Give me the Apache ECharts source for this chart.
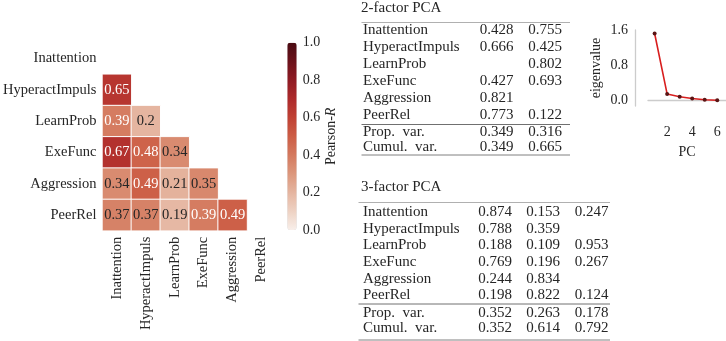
<!DOCTYPE html>
<html>
<head>
<meta charset="utf-8">
<script src="https://cdn.jsdelivr.net/npm/echarts@6/dist/echarts.min.js"></script>
<style>
  html, body { margin: 0; padding: 0; background: #fff; }
  #chart { width: 726px; height: 341px; }
</style>
</head>
<body>
<div id="chart"></div>
<script>
// correlation matrix (lower triangle, row i has i values)
var corrVars = ['Inattention', 'HyperactImpuls', 'LearnProb', 'ExeFunc', 'Aggression', 'PeerRel'];
var corrLower = [
    [],
    [0.65],
    [0.39, 0.2],
    [0.67, 0.48, 0.34],
    [0.34, 0.49, 0.21, 0.35],
    [0.37, 0.37, 0.19, 0.39, 0.49]
];
var colorbarTicks = [0, 0.2, 0.4, 0.6, 0.8, 1.0];

// PCA tables
var pcaVars = ['Inattention', 'HyperactImpuls', 'LearnProb', 'ExeFunc', 'Aggression', 'PeerRel'];
var pca2Loadings = [
    [0.428, 0.755],
    [0.666, 0.425],
    [null, 0.802],
    [0.427, 0.693],
    [0.821, null],
    [0.773, 0.122]
];
var pca2PropVar = [0.349, 0.316];
var pca2CumulVar = [0.349, 0.665];
var pca3Loadings = [
    [0.874, 0.153, 0.247],
    [0.788, 0.359, null],
    [0.188, 0.109, 0.953],
    [0.769, 0.196, 0.267],
    [0.244, 0.834, null],
    [0.198, 0.822, 0.124]
];
var pca3PropVar = [0.352, 0.263, 0.178];
var pca3CumulVar = [0.352, 0.614, 0.792];

// scree plot
var screePC = [1, 2, 3, 4, 5, 6];
var screeEigen = [1.52, 0.15, 0.09, 0.05, 0.02, 0.01];
var screeYTicks = [0, 0.8, 1.6];
var screeXTicks = [2, 4, 6];

var FONT = 'Liberation Serif';
var TXT = '#262626';

var chart = echarts.init(document.getElementById('chart'));

// heatmap cells, text white on the dark ones
var heatData = [];
for (var i = 0; i < corrLower.length; i++) {
    for (var j = 0; j < corrLower[i].length; j++) {
        var v = corrLower[i][j];
        heatData.push({
            value: [j, i, v],
            label: { color: v >= 0.38 ? '#ffffff' : TXT }
        });
    }
}

// builds a booktabs-like table from the arrays
function tableGraphics(t) {
    var els = [];
    var font = '15px "' + FONT + '"';
    els.push({ type: 'text', style: { text: t.title, x: t.left - 2, y: t.titleY, font: font, fill: TXT, textAlign: 'left', textVerticalAlign: 'middle', align: 'left', verticalAlign: 'middle' } });
    function rule(y, color) {
        els.push({ type: 'line', shape: { x1: t.ruleLeft, y1: y, x2: t.ruleRight, y2: y }, style: { stroke: color, lineWidth: 1 } });
    }
    function row(label, vals, y) {
        els.push({ type: 'text', style: { text: label, x: t.left, y: y, font: font, fill: TXT, textAlign: 'left', textVerticalAlign: 'middle', align: 'left', verticalAlign: 'middle' } });
        for (var k = 0; k < vals.length; k++) {
            if (vals[k] == null) continue;
            els.push({ type: 'text', style: { text: vals[k].toFixed(3), x: t.colRights[k], y: y, font: font, fill: TXT, textAlign: 'right', textVerticalAlign: 'middle', align: 'right', verticalAlign: 'middle' } });
        }
    }
    rule(t.topRule, '#b0b0b0');
    for (var r = 0; r < pcaVars.length; r++) {
        row(pcaVars[r], t.loadings[r], t.rowY0 + r * t.rowH);
    }
    rule(t.midRule, '#707070');
    row('Prop.  var.', t.prop, t.sumY0);
    row('Cumul.  var.', t.cumul, t.sumY0 + t.sumH);
    rule(t.bottomRule, '#808080');
    return els;
}

var graphics = [].concat(
    tableGraphics({
        title: '2-factor PCA', titleY: 8, left: 363, ruleLeft: 361.5, ruleRight: 570,
        colRights: [513.5, 562], topRule: 22.5, rowY0: 30.5, rowH: 17, midRule: 124.5,
        sumY0: 132.5, sumH: 15, bottomRule: 155,
        loadings: pca2Loadings, prop: pca2PropVar, cumul: pca2CumulVar
    }),
    tableGraphics({
        title: '3-factor PCA', titleY: 187, left: 363, ruleLeft: 358.5, ruleRight: 610,
        colRights: [512, 560, 608.5], topRule: 202.5, rowY0: 212, rowH: 16.7, midRule: 304,
        sumY0: 312.7, sumH: 15.6, bottomRule: 340,
        loadings: pca3Loadings, prop: pca3PropVar, cumul: pca3CumulVar
    })
);

function lbl(size, extra) {
    var o = { fontSize: size, fontFamily: FONT, color: TXT };
    for (var key in extra) o[key] = extra[key];
    return o;
}

var option = {
    animation: false,
    textStyle: { fontFamily: FONT, color: TXT },
    grid: [
        { left: 98.3, top: 43, width: 177.7, height: 187.7 },
        { left: 648, top: 30, width: 78, height: 76 },
        { left: 287.3, top: 42.7, width: 9.4, height: 187.3 }
    ],
    xAxis: [
        {
            type: 'category', gridIndex: 0, data: corrVars,
            axisLine: { show: false }, axisTick: { show: false }, splitLine: { show: false },
            axisLabel: lbl(14.5, { rotate: 90, margin: 6, interval: 0 })
        },
        {
            type: 'value', gridIndex: 1, min: 0.47, max: 6.7, offset: 14,
            axisLine: { show: true, lineStyle: { color: '#cccccc', width: 1.3 } },
            axisTick: { show: false }, splitLine: { show: false },
            axisLabel: lbl(14, { customValues: screeXTicks, margin: 5 }),
            name: 'PC', nameLocation: 'middle', nameGap: 25,
            nameTextStyle: lbl(14, {})
        },
        { type: 'value', gridIndex: 2, show: false }
    ],
    yAxis: [
        {
            type: 'category', gridIndex: 0, data: corrVars, inverse: true,
            axisLine: { show: false }, axisTick: { show: false }, splitLine: { show: false },
            axisLabel: lbl(14.5, { margin: 6, interval: 0 })
        },
        {
            type: 'value', gridIndex: 1, min: -0.12, max: 1.6, offset: 13,
            axisLine: { show: true, lineStyle: { color: '#cccccc', width: 1.3 } },
            axisTick: { show: false }, splitLine: { show: false },
            axisLabel: lbl(14, { customValues: screeYTicks, margin: 7,
                formatter: function (v) { return v.toFixed(1); } }),
            name: 'eigenvalue', nameLocation: 'middle', nameRotate: 90, nameGap: 32,
            nameTextStyle: lbl(14, {})
        },
        {
            type: 'value', gridIndex: 2, position: 'right', min: 0, max: 1,
            axisLine: { show: false }, axisTick: { show: false }, splitLine: { show: false },
            axisLabel: lbl(14, { customValues: colorbarTicks, margin: 6,
                formatter: function (v) { return v.toFixed(1); } }),
            name: '{a|Pearson-}{b|R}', nameLocation: 'middle', nameRotate: 90, nameGap: 27,
            nameTextStyle: lbl(14, {
                rich: { a: lbl(14, {}), b: lbl(14, { fontStyle: 'italic' }) } })
        }
    ],
    visualMap: {
        type: 'continuous', min: 0, max: 1, seriesIndex: 0, calculable: false,
        orient: 'vertical', left: 287.3, top: 42.7, itemWidth: 9.4, itemHeight: 187.3,
        padding: 0, hoverLink: false,
        inRange: { color: ['#f8efea', '#eed2c3', '#e5b5a0', '#dc977c', '#d4795e', '#cc5d45', '#c04134', '#ad2a2b', '#8f1b23', '#6c121b', '#4a0b12'] }
    },
    series: [
        {
            type: 'heatmap', xAxisIndex: 0, yAxisIndex: 0, data: heatData,
            itemStyle: { borderColor: '#ffffff', borderWidth: 1 },
            label: lbl(14.5, { show: true,
                formatter: function (p) { return String(p.value[2]); } }),
            emphasis: { disabled: true }
        },
        {
            type: 'line', xAxisIndex: 1, yAxisIndex: 1,
            data: screePC.map(function (x, k) { return [x, screeEigen[k]]; }),
            symbol: 'circle', symbolSize: 4, showAllSymbol: true,
            lineStyle: { color: '#d81e1e', width: 1.6 },
            itemStyle: { color: '#5a1414' }
        }
    ],
    graphic: graphics
};

chart.setOption(option);
</script>
</body>
</html>
